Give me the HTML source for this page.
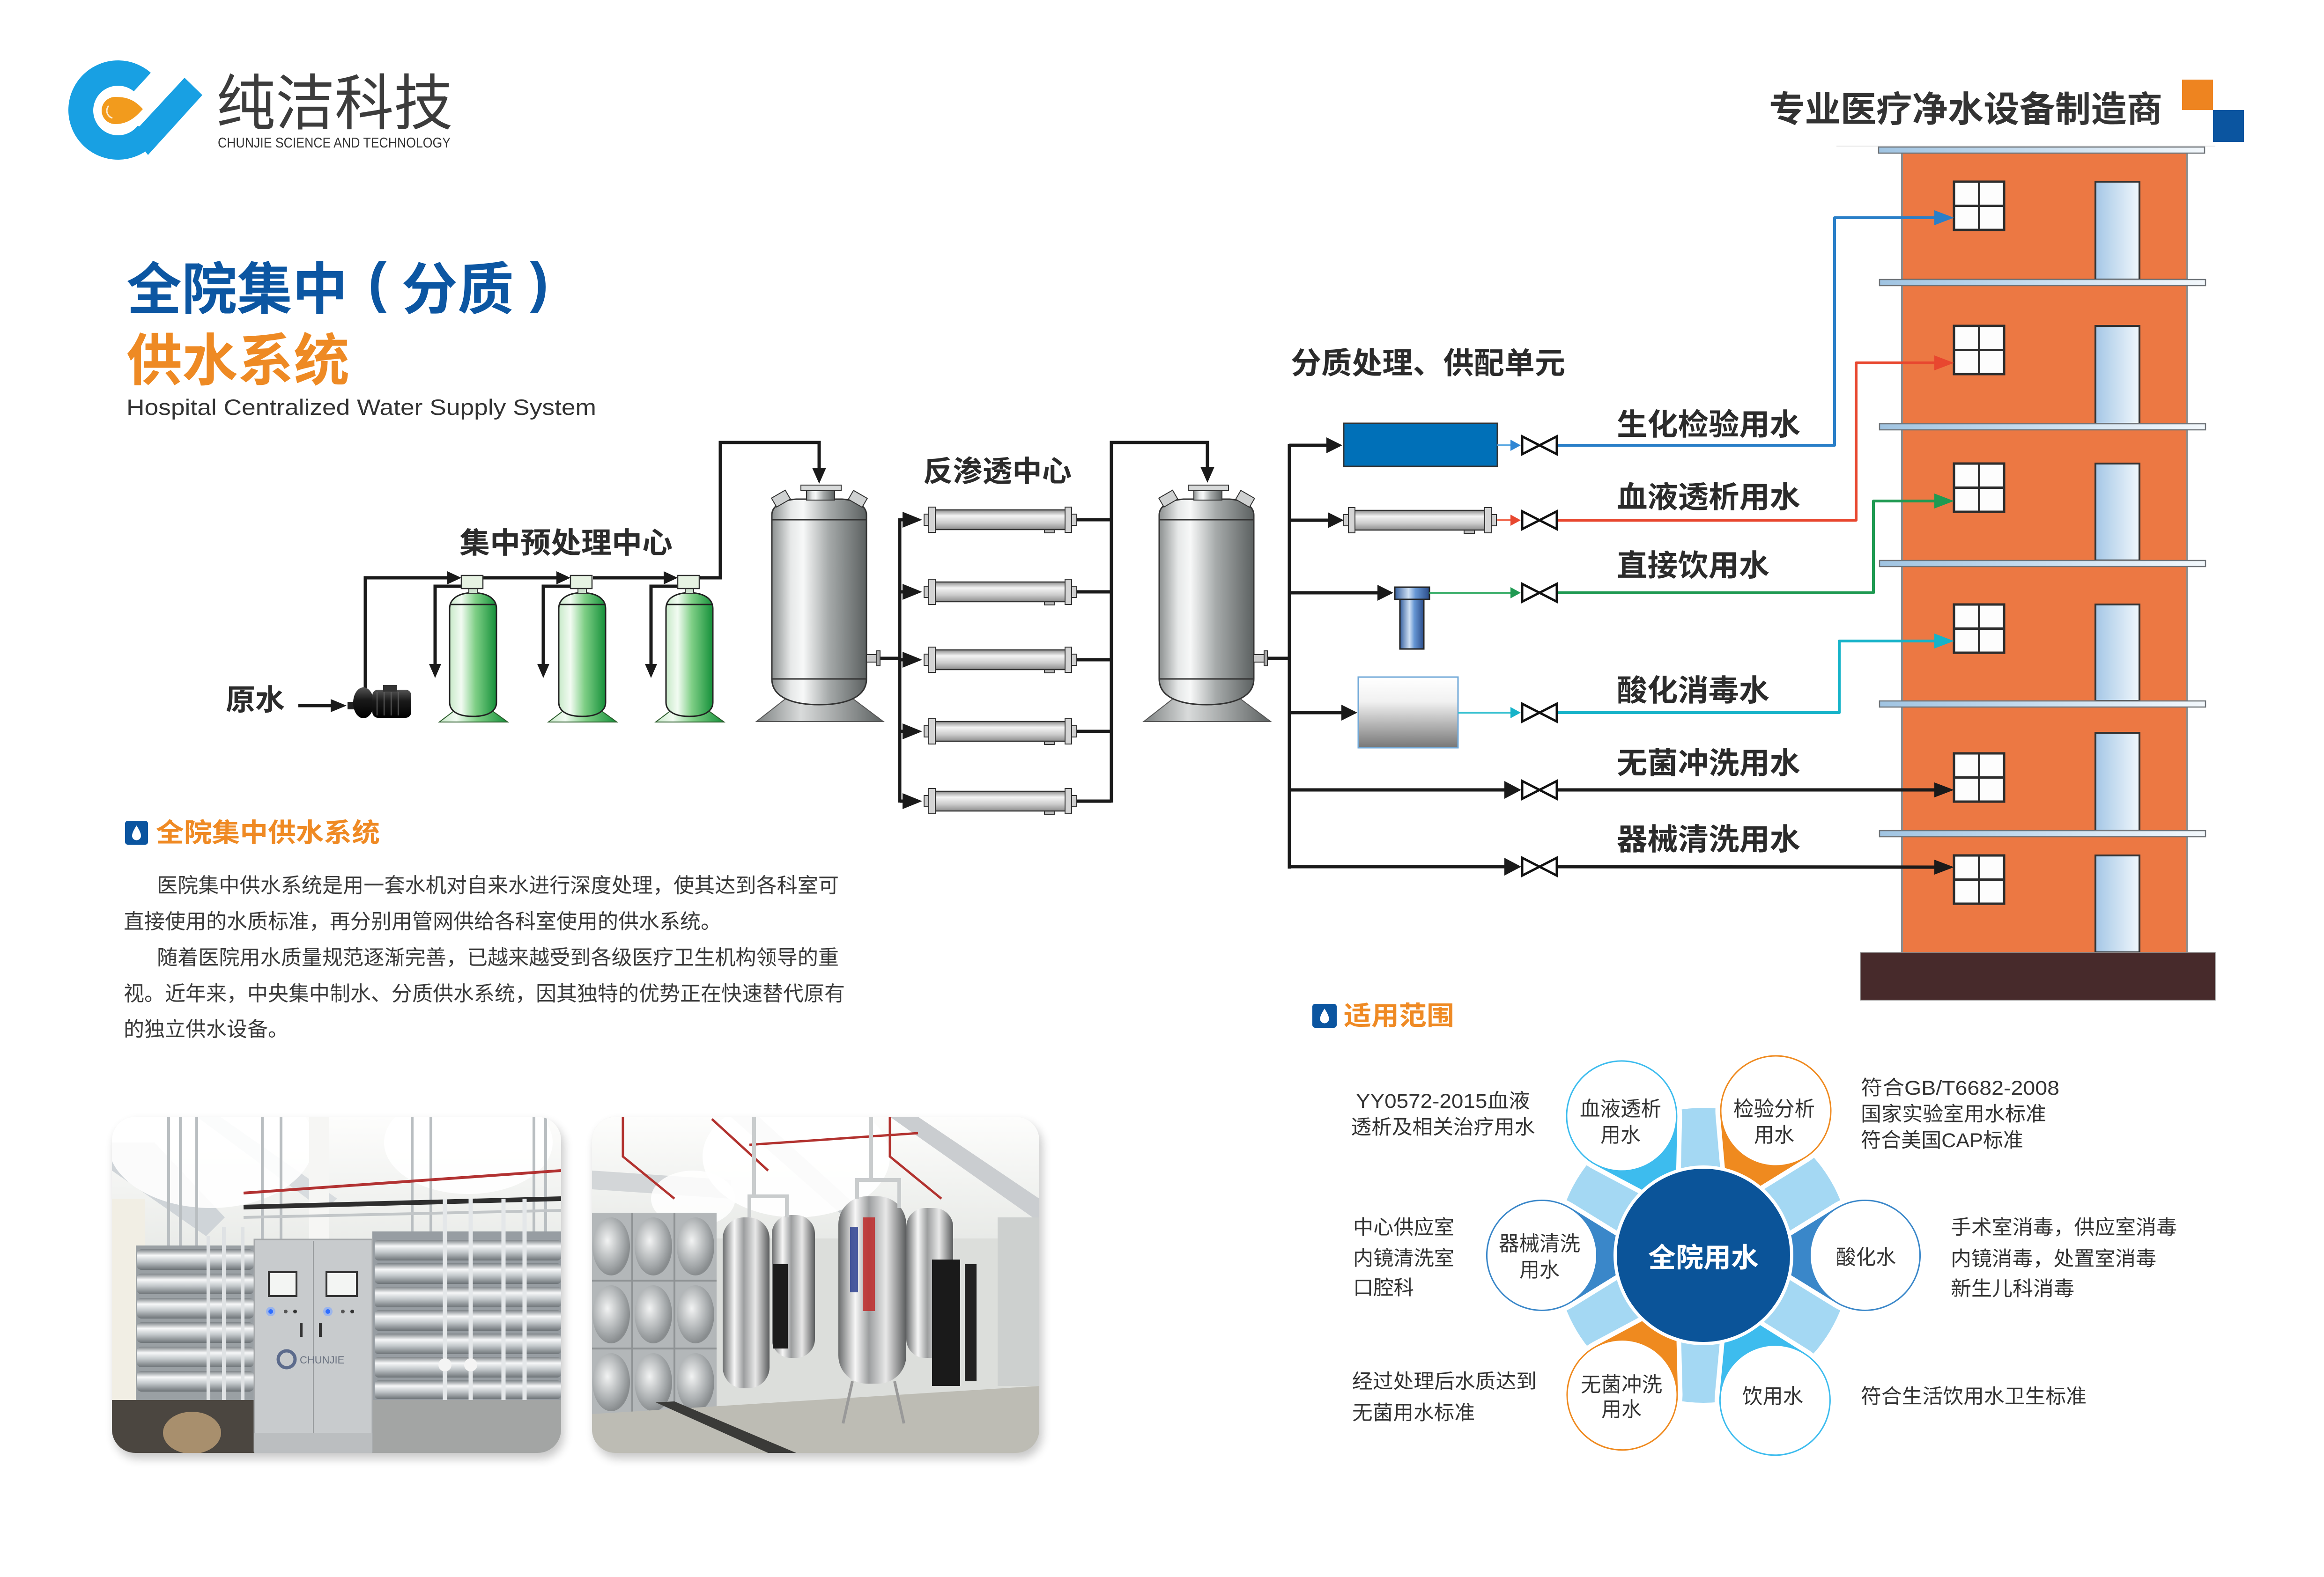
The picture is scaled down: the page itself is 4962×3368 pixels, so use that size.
<!DOCTYPE html>
<html><head><meta charset="utf-8">
<style>
html,body{margin:0;padding:0;background:#fff;}
body{width:4962px;height:3368px;overflow:hidden;}
svg{display:block;}
text{font-family:"Liberation Sans","Noto Sans CJK SC",sans-serif;}
</style></head><body>
<svg xmlns="http://www.w3.org/2000/svg" xmlns:xlink="http://www.w3.org/1999/xlink" width="4962" height="3368" viewBox="0 0 4962 3368">
<defs>
 <linearGradient id="gTank" x1="0" x2="1" y1="0" y2="0">
  <stop offset="0" stop-color="#8c9090"/><stop offset="0.2" stop-color="#e6e8e8"/><stop offset="0.33" stop-color="#f7f8f8"/><stop offset="0.6" stop-color="#a6aaaa"/><stop offset="1" stop-color="#5c6161"/>
 </linearGradient>
 <linearGradient id="gCone" x1="0" x2="1" y1="0" y2="0">
  <stop offset="0" stop-color="#7d8181"/><stop offset="0.35" stop-color="#d9dbdb"/><stop offset="1" stop-color="#5d6262"/>
 </linearGradient>
 <linearGradient id="gGreen" x1="0" x2="1" y1="0" y2="0">
  <stop offset="0" stop-color="#c8eac9"/><stop offset="0.25" stop-color="#f2fbf2"/><stop offset="0.55" stop-color="#7fcf86"/><stop offset="1" stop-color="#15903a"/>
 </linearGradient>
 <linearGradient id="gTube" x1="0" y1="0" x2="0" y2="1">
  <stop offset="0" stop-color="#8c8c8c"/><stop offset="0.3" stop-color="#f4f4f4"/><stop offset="0.65" stop-color="#cdcdcd"/><stop offset="1" stop-color="#8e8e8e"/>
 </linearGradient>
 <linearGradient id="gDoor" x1="0" x2="1" y1="0" y2="0">
  <stop offset="0" stop-color="#a5c7e6"/><stop offset="1" stop-color="#f0f7fc"/>
 </linearGradient>
 <linearGradient id="gSlab" x1="0" x2="1" y1="0" y2="0">
  <stop offset="0" stop-color="#a0c4e2"/><stop offset="1" stop-color="#f3f8fc"/>
 </linearGradient>
 <linearGradient id="gCart" x1="0" x2="1" y1="0" y2="0">
  <stop offset="0" stop-color="#36609f"/><stop offset="0.4" stop-color="#cfe0f4"/><stop offset="0.6" stop-color="#6797d4"/><stop offset="1" stop-color="#2b4d8a"/>
 </linearGradient>
 <linearGradient id="gBox" x1="0" y1="0" x2="0" y2="1">
  <stop offset="0" stop-color="#ffffff"/><stop offset="0.35" stop-color="#f1f1f1"/><stop offset="1" stop-color="#777777"/>
 </linearGradient>
 <linearGradient id="gPump" x1="0" y1="0" x2="0" y2="1">
  <stop offset="0" stop-color="#555"/><stop offset="0.4" stop-color="#1a1a1a"/><stop offset="1" stop-color="#000"/>
 </linearGradient>
 <linearGradient id="gSteel" x1="0" y1="0" x2="0" y2="1">
  <stop offset="0" stop-color="#7d8387"/><stop offset="0.3" stop-color="#f7f8f9"/><stop offset="0.6" stop-color="#c3c8cb"/><stop offset="1" stop-color="#6e7478"/>
 </linearGradient>
 <linearGradient id="gSteelV" x1="0" x2="1" y1="0" y2="0">
  <stop offset="0" stop-color="#6a6c6d"/><stop offset="0.25" stop-color="#f7f7f7"/><stop offset="0.45" stop-color="#9c9e9f"/><stop offset="0.7" stop-color="#e8e8e8"/><stop offset="1" stop-color="#5a5c5d"/>
 </linearGradient>
 <linearGradient id="gCeil" x1="0" y1="0" x2="0" y2="1">
  <stop offset="0" stop-color="#fdfdfc"/><stop offset="1" stop-color="#e8eae7"/>
 </linearGradient>
 <radialGradient id="gDimple" cx="0.4" cy="0.4" r="0.6">
  <stop offset="0" stop-color="#f2f3f3"/><stop offset="0.7" stop-color="#a8acae"/><stop offset="1" stop-color="#888c8e"/>
 </radialGradient>
 <clipPath id="clip1"><rect x="239" y="2385" width="959" height="718" rx="50"/></clipPath>
 <clipPath id="clip2"><rect x="1264" y="2385" width="955" height="718" rx="50"/></clipPath>
 <filter id="blur" x="-10%" y="-10%" width="120%" height="130%"><feGaussianBlur stdDeviation="10"/></filter>

 <g id="tankG">
  <polygon points="1688,1484 1810,1484 1886,1541 1615,1541" fill="url(#gCone)" stroke="#555" stroke-width="2"/>
  <path d="M1648,1450 L1648,1100 C1648,1080 1670,1068 1700,1066 L1798,1066 C1828,1068 1850,1080 1850,1100 L1850,1450 C1850,1492 1800,1505 1749,1505 C1698,1505 1648,1492 1648,1450 Z" fill="url(#gTank)" stroke="#333" stroke-width="3"/>
  <line x1="1648" y1="1110" x2="1850" y2="1110" stroke="#333" stroke-width="3"/>
  <line x1="1648" y1="1450" x2="1850" y2="1450" stroke="#333" stroke-width="3"/>
  <rect x="1722" y="1046" width="60" height="22" fill="url(#gTank)" stroke="#333" stroke-width="2"/>
  <rect x="1710" y="1036" width="86" height="12" fill="#d8dada" stroke="#333" stroke-width="2"/>
  <g transform="rotate(-30 1668 1068)"><rect x="1652" y="1054" width="34" height="22" fill="#cfd1d1" stroke="#333" stroke-width="2"/></g>
  <g transform="rotate(30 1830 1068)"><rect x="1813" y="1054" width="34" height="22" fill="#cfd1d1" stroke="#333" stroke-width="2"/></g>
  <rect x="1850" y="1398" width="22" height="16" fill="#ccc" stroke="#333" stroke-width="2"/>
  <rect x="1872" y="1390" width="7" height="32" fill="#aaa" stroke="#333" stroke-width="2"/>
 </g>
 <g id="tankGr">
  <polygon points="983,1508 1037,1508 1084,1542 938,1542" fill="url(#gGreen)" stroke="#2a5a2a" stroke-width="2"/>
  <path d="M960,1300 C960,1278 980,1266 1010,1266 C1040,1266 1060,1278 1060,1300 L1060,1500 C1060,1520 1040,1530 1010,1530 C980,1530 960,1520 960,1500 Z" fill="url(#gGreen)" stroke="#222" stroke-width="3"/>
  <line x1="961" y1="1291" x2="1059" y2="1291" stroke="#222" stroke-width="3"/>
  <rect x="1001" y="1256" width="18" height="11" fill="#cfe3cf" stroke="#333" stroke-width="2"/>
  <rect x="985" y="1229" width="46" height="28" fill="#e6f2e2" stroke="#333" stroke-width="2.5"/>
 </g>
 <g id="tube">
  <rect x="1973" y="-12" width="11" height="24" fill="#cfcfcf" stroke="#333" stroke-width="2"/>
  <rect x="2230" y="18" width="22" height="10" fill="#bbb" stroke="#333" stroke-width="2"/>
  <rect x="1995" y="-21" width="282" height="42" fill="url(#gTube)" stroke="#333" stroke-width="2.5"/>
  <rect x="1983" y="-27" width="14" height="54" fill="#d5d5d5" stroke="#333" stroke-width="2"/>
  <rect x="2274" y="-27" width="14" height="54" fill="#d5d5d5" stroke="#333" stroke-width="2"/>
  <rect x="2288" y="-12" width="11" height="24" fill="#cfcfcf" stroke="#333" stroke-width="2"/>
 </g>
 <g id="valve">
  <path d="M-37,-19 L-37,19 L0,0 Z M37,-19 L37,19 L0,0 Z" fill="#fff" stroke="#111" stroke-width="5"/>
 </g>
 <g id="win">
  <rect x="4172" y="0" width="107" height="103" fill="#fdfdfd" stroke="#2d2d2d" stroke-width="5"/>
  <line x1="4225.5" y1="0" x2="4225.5" y2="103" stroke="#2d2d2d" stroke-width="5"/>
  <line x1="4172" y1="51.5" x2="4279" y2="51.5" stroke="#2d2d2d" stroke-width="5"/>
 </g>
 <g id="slab">
  <rect x="4013" y="0" width="696" height="13" fill="url(#gSlab)" stroke="#6f7479" stroke-width="2.5"/>
 </g>
</defs>

<!-- ================= LOGO ================= -->
<circle cx="252" cy="235" r="106" fill="#18a0e3"/>
<polygon points="337,139 403,156 299,270 230,256" fill="#fff"/>
<circle cx="252" cy="236" r="53" fill="#fff"/>
<path d="M305,233 C288,214 272,207 246,207 A29,29 0 1 0 246,265 C272,265 288,252 305,233 Z" fill="#f29b1d"/>
<path d="M232,226 A16,16 0 0 0 240,252" fill="none" stroke="#fff" stroke-width="3" opacity="0.8"/>
<polygon points="394,166 432,203 316,331 282,287" fill="#18a0e3"/>
<text x="462" y="266" font-size="130" fill="#3c3c3c" textLength="505" lengthAdjust="spacingAndGlyphs">纯洁科技</text>
<text x="465" y="315" font-size="31" fill="#333" textLength="497" lengthAdjust="spacingAndGlyphs">CHUNJIE SCIENCE AND TECHNOLOGY</text>

<!-- ================= TITLE ================= -->
<g font-size="120" font-weight="700" fill="#0c56a2">
 <text x="270" y="660" textLength="472" lengthAdjust="spacingAndGlyphs">全院集中</text>
 <text x="806" y="644" text-anchor="middle">(</text>
 <text x="857" y="660" textLength="240" lengthAdjust="spacingAndGlyphs">分质</text>
 <text x="1151" y="644" text-anchor="middle">)</text>
</g>
<text x="270" y="812" font-size="120" font-weight="700" fill="#ee8a24" textLength="476" lengthAdjust="spacingAndGlyphs">供水系统</text>
<text x="270" y="886" font-size="47" fill="#333" textLength="1003" lengthAdjust="spacingAndGlyphs">Hospital Centralized Water Supply System</text>

<!-- top right -->
<text x="3777" y="260" font-size="76" font-weight="700" fill="#333" textLength="840" lengthAdjust="spacingAndGlyphs">专业医疗净水设备制造商</text>
<rect x="4659" y="170" width="66" height="65" fill="#ee8420"/>
<rect x="4725" y="235" width="66" height="68" fill="#0b55a0"/>

<!-- ================= BUILDING ================= -->
<line x1="3921" y1="312" x2="4730" y2="312" stroke="#e4e4e4" stroke-width="2"/>
<rect x="4060" y="320" width="611" height="1714" fill="#ec7843"/>
<line x1="4061" y1="320" x2="4061" y2="2034" stroke="#8d8d8d" stroke-width="4"/>
<line x1="4670" y1="320" x2="4670" y2="2034" stroke="#8d8d8d" stroke-width="4"/>
<g>
 <rect x="4474" y="388" width="94" height="209" fill="url(#gDoor)" stroke="#333" stroke-width="4"/>
 <rect x="4474" y="696" width="94" height="209" fill="url(#gDoor)" stroke="#333" stroke-width="4"/>
 <rect x="4474" y="990" width="94" height="207" fill="url(#gDoor)" stroke="#333" stroke-width="4"/>
 <rect x="4474" y="1291" width="94" height="206" fill="url(#gDoor)" stroke="#333" stroke-width="4"/>
 <rect x="4474" y="1565" width="94" height="209" fill="url(#gDoor)" stroke="#333" stroke-width="4"/>
 <rect x="4474" y="1827" width="94" height="207" fill="url(#gDoor)" stroke="#333" stroke-width="4"/>
</g>
<use xlink:href="#win" href="#win" y="388"/>
<use xlink:href="#win" href="#win" y="696"/>
<use xlink:href="#win" href="#win" y="990"/>
<use xlink:href="#win" href="#win" y="1291"/>
<use xlink:href="#win" href="#win" y="1609"/>
<use xlink:href="#win" href="#win" y="1827"/>
<line x1="4060" y1="597" x2="4671" y2="597" stroke="#333" stroke-width="3"/>
<use xlink:href="#slab" href="#slab" y="314" x="-2"/>
<use xlink:href="#slab" href="#slab" y="597"/>
<use xlink:href="#slab" href="#slab" y="905"/>
<use xlink:href="#slab" href="#slab" y="1197"/>
<use xlink:href="#slab" href="#slab" y="1497"/>
<use xlink:href="#slab" href="#slab" y="1774"/>
<rect x="3972" y="2034" width="758" height="102" fill="#472a2b" stroke="#9a9a9a" stroke-width="1.5"/>

<!-- ================= FLOW LEFT ================= -->
<text x="482" y="1516" font-size="62" font-weight="700" fill="#2b2b2b" textLength="126" lengthAdjust="spacingAndGlyphs">原水</text>
<text x="981" y="1181" font-size="62" font-weight="700" fill="#2b2b2b" textLength="455" lengthAdjust="spacingAndGlyphs">集中预处理中心</text>
<text x="1971" y="1028" font-size="62" font-weight="700" fill="#2b2b2b" textLength="317" lengthAdjust="spacingAndGlyphs">反渗透中心</text>
<text x="2756" y="798" font-size="64" font-weight="700" fill="#2b2b2b" textLength="586" lengthAdjust="spacingAndGlyphs">分质处理、供配单元</text>

<g fill="none" stroke="#1a1a1a" stroke-width="7">
 <line x1="637" y1="1507" x2="712" y2="1507"/>
 <polyline points="780,1478 780,1234 960,1234"/>
 <line x1="1031" y1="1234" x2="1195" y2="1234"/>
 <line x1="1266" y1="1234" x2="1424" y2="1234"/>
 <polyline points="1495,1234 1538,1234 1538,945 1749,945 1749,1005"/>
 <polyline points="985,1252 929,1252 929,1425"/>
 <polyline points="1218,1252 1160,1252 1160,1425"/>
 <polyline points="1447,1252 1390,1252 1390,1425"/>
 <line x1="1879" y1="1406" x2="1921" y2="1406"/>
 <line x1="1921" y1="1107" x2="1921" y2="1714"/>
 <line x1="1921" y1="1110" x2="1935" y2="1110"/>
 <line x1="1921" y1="1264" x2="1935" y2="1264"/>
 <line x1="1921" y1="1409" x2="1935" y2="1409"/>
 <line x1="1921" y1="1562" x2="1935" y2="1562"/>
 <line x1="1921" y1="1711" x2="1935" y2="1711"/>
 <line x1="2299" y1="1110" x2="2373" y2="1110"/>
 <line x1="2299" y1="1264" x2="2373" y2="1264"/>
 <line x1="2299" y1="1409" x2="2373" y2="1409"/>
 <line x1="2299" y1="1562" x2="2373" y2="1562"/>
 <line x1="2299" y1="1711" x2="2373" y2="1711"/>
 <polyline points="2373,1714 2373,945 2578,945 2578,1005"/>
 <line x1="2706" y1="1406" x2="2753" y2="1406"/>
 <line x1="2753" y1="948" x2="2753" y2="1855"/>
 <line x1="2753" y1="951" x2="2838" y2="951"/>
 <line x1="2753" y1="1111" x2="2840" y2="1111"/>
 <line x1="2753" y1="1266" x2="2945" y2="1266"/>
 <line x1="2753" y1="1522" x2="2870" y2="1522"/>
 <line x1="2753" y1="1687" x2="3215" y2="1687"/>
 <line x1="2753" y1="1851" x2="3215" y2="1851"/>
 <line x1="3326" y1="1687" x2="4135" y2="1687"/>
 <line x1="3326" y1="1851" x2="4135" y2="1852"/>
</g>
<g fill="#1a1a1a">
 <polygon points="706,1493 740,1507 706,1521"/>
 <polygon points="955,1220 985,1234 955,1248"/>
 <polygon points="1188,1220 1218,1234 1188,1248"/>
 <polygon points="1417,1220 1447,1234 1417,1248"/>
 <polygon points="916,1418 929,1448 942,1418"/>
 <polygon points="1147,1418 1160,1448 1173,1418"/>
 <polygon points="1377,1418 1390,1448 1403,1418"/>
 <polygon points="1734,999 1749,1033 1764,999"/>
 <polygon points="2563,997 2578,1031 2593,997"/>
 <polygon points="1927,1093 1969,1110 1927,1127"/>
 <polygon points="1927,1247 1969,1264 1927,1281"/>
 <polygon points="1927,1392 1969,1409 1927,1426"/>
 <polygon points="1927,1545 1969,1562 1927,1579"/>
 <polygon points="1927,1694 1969,1711 1927,1728"/>
 <polygon points="2832,934 2866,951 2832,968"/>
 <polygon points="2835,1094 2869,1111 2835,1128"/>
 <polygon points="2941,1249 2975,1266 2941,1283"/>
 <polygon points="2864,1505 2898,1522 2864,1539"/>
 <polygon points="3212,1668 3248,1687 3212,1706"/>
 <polygon points="3212,1832 3248,1851 3212,1870"/>
 <polygon points="4130,1671 4172,1687 4130,1703"/>
 <polygon points="4130,1836 4172,1852 4130,1868"/>
</g>

<!-- pump -->
<g>
 <rect x="742" y="1499" width="14" height="16" fill="#222"/>
 <ellipse cx="776" cy="1501" rx="22" ry="33" fill="url(#gPump)"/>
 <rect x="795" y="1473" width="83" height="60" rx="12" fill="url(#gPump)"/>
 <rect x="818" y="1463" width="30" height="14" fill="#333"/>
 <line x1="805" y1="1478" x2="805" y2="1528" stroke="#666" stroke-width="2"/>
 <line x1="820" y1="1478" x2="820" y2="1528" stroke="#666" stroke-width="2"/>
 <line x1="835" y1="1478" x2="835" y2="1528" stroke="#666" stroke-width="2"/>
 <line x1="850" y1="1478" x2="850" y2="1528" stroke="#666" stroke-width="2"/>
</g>
<!-- green tanks -->
<use xlink:href="#tankGr" href="#tankGr"/>
<use xlink:href="#tankGr" href="#tankGr" x="233"/>
<use xlink:href="#tankGr" href="#tankGr" x="462"/>
<!-- gray tanks -->
<use xlink:href="#tankG" href="#tankG"/>
<use xlink:href="#tankG" href="#tankG" x="827"/>
<!-- RO tubes -->
<use xlink:href="#tube" href="#tube" y="1110"/>
<use xlink:href="#tube" href="#tube" y="1264"/>
<use xlink:href="#tube" href="#tube" y="1409"/>
<use xlink:href="#tube" href="#tube" y="1562"/>
<use xlink:href="#tube" href="#tube" y="1711"/>

<!-- ================= BRANCHES ================= -->
<rect x="2869" y="904" width="328" height="92" fill="#0070b8" stroke="#333" stroke-width="3"/>
<use xlink:href="#tube" href="#tube" x="896" y="1111"/>
<rect x="2978" y="1254" width="74" height="26" fill="url(#gCart)" stroke="#222" stroke-width="3"/>
<rect x="2989" y="1280" width="51" height="106" fill="url(#gCart)" stroke="#222" stroke-width="3"/>
<rect x="2900" y="1446" width="213" height="151" fill="url(#gBox)" stroke="#72a9d8" stroke-width="3"/>

<g fill="none" stroke-width="4">
 <line x1="3197" y1="951" x2="3230" y2="951" stroke="#5aa8e2"/>
 <line x1="3197" y1="1111" x2="3230" y2="1111" stroke="#f06a50"/>
 <line x1="3052" y1="1266" x2="3230" y2="1266" stroke="#3aae6a"/>
 <line x1="3113" y1="1522" x2="3230" y2="1522" stroke="#35c0d0"/>
</g>
<polygon points="3225,939 3247,951 3225,963" fill="#2f86d4"/>
<polygon points="3225,1099 3247,1111 3225,1123" fill="#e8472f"/>
<polygon points="3225,1254 3247,1266 3225,1278" fill="#1f9a52"/>
<polygon points="3225,1510 3247,1522 3225,1534" fill="#16b3c9"/>

<g fill="none" stroke-width="6" stroke-linejoin="round">
 <polyline points="3326,951 3917,951 3917,465 4135,465" stroke="#2a7fc8"/>
 <polyline points="3326,1111 3963,1111 3963,775 4135,775" stroke="#e8472f"/>
 <polyline points="3326,1266 4000,1266 4000,1070 4135,1070" stroke="#1f9a52"/>
 <polyline points="3326,1522 3927,1522 3927,1369 4135,1369" stroke="#16b3c9"/>
</g>
<polygon points="4130,449 4172,465 4130,481" fill="#2a7fc8"/>
<polygon points="4130,759 4172,775 4130,791" fill="#e8472f"/>
<polygon points="4130,1054 4172,1070 4130,1086" fill="#1f9a52"/>
<polygon points="4130,1353 4172,1369 4130,1385" fill="#16b3c9"/>

<use xlink:href="#valve" href="#valve" x="3287" y="951"/>
<use xlink:href="#valve" href="#valve" x="3287" y="1111"/>
<use xlink:href="#valve" href="#valve" x="3287" y="1266"/>
<use xlink:href="#valve" href="#valve" x="3287" y="1522"/>
<use xlink:href="#valve" href="#valve" x="3287" y="1687"/>
<use xlink:href="#valve" href="#valve" x="3287" y="1851"/>

<g font-size="64" font-weight="700" fill="#2b2b2b">
 <text x="3452" y="929" textLength="392" lengthAdjust="spacingAndGlyphs">生化检验用水</text>
 <text x="3452" y="1084" textLength="392" lengthAdjust="spacingAndGlyphs">血液透析用水</text>
 <text x="3452" y="1230" textLength="326" lengthAdjust="spacingAndGlyphs">直接饮用水</text>
 <text x="3452" y="1497" textLength="326" lengthAdjust="spacingAndGlyphs">酸化消毒水</text>
 <text x="3452" y="1652" textLength="392" lengthAdjust="spacingAndGlyphs">无菌冲洗用水</text>
 <text x="3452" y="1815" textLength="392" lengthAdjust="spacingAndGlyphs">器械清洗用水</text>
</g>

<!-- ================= SECTION 1 TEXT ================= -->
<rect x="267" y="1753" width="49" height="51" rx="6" fill="#0b55a0"/>
<path d="M291.5,1763 C286,1772 282,1779 282,1785 A9.5,9.5 0 0 0 301,1785 C301,1779 297,1772 291.5,1763 Z" fill="#fff"/>
<text x="333" y="1798" font-size="56" font-weight="700" fill="#ef8a24" textLength="478" lengthAdjust="spacingAndGlyphs">全院集中供水系统</text>
<g font-size="44" fill="#3a3a3a">
 <text x="335" y="1906" textLength="1456" lengthAdjust="spacingAndGlyphs">医院集中供水系统是用一套水机对自来水进行深度处理，使其达到各科室可</text>
 <text x="264" y="1983" textLength="1276" lengthAdjust="spacingAndGlyphs">直接使用的水质标准，再分别用管网供给各科室使用的供水系统。</text>
 <text x="335" y="2060" textLength="1456" lengthAdjust="spacingAndGlyphs">随着医院用水质量规范逐渐完善，已越来越受到各级医疗卫生机构领导的重</text>
 <text x="264" y="2137" textLength="1540" lengthAdjust="spacingAndGlyphs">视。近年来，中央集中制水、分质供水系统，因其独特的优势正在快速替代原有</text>
 <text x="264" y="2213" textLength="352" lengthAdjust="spacingAndGlyphs">的独立供水设备。</text>
</g>

<!-- ================= PHOTOS ================= -->
<rect x="245" y="2397" width="959" height="718" rx="50" fill="#000" opacity="0.22" filter="url(#blur)"/>
<rect x="1270" y="2397" width="955" height="718" rx="50" fill="#000" opacity="0.22" filter="url(#blur)"/>
<g clip-path="url(#clip1)">
 <rect x="239" y="2385" width="959" height="718" fill="#e6e8e5"/>
 <rect x="239" y="2385" width="959" height="300" fill="url(#gCeil)"/>
 <rect x="239" y="2560" width="70" height="430" fill="#f1eee4"/>
 <polygon points="239,2440 330,2440 480,2600 440,2640 239,2500" fill="#cfd4d8"/>
 <polygon points="420,2385 470,2385 720,2560 690,2585" fill="#d8dcdf"/>
 <ellipse cx="450" cy="2440" rx="220" ry="140" fill="#fff" opacity="0.9"/>
 <ellipse cx="1000" cy="2440" rx="180" ry="110" fill="#fff" opacity="0.9"/>
 <rect x="660" y="2385" width="42" height="270" fill="#f6f6f4"/>
 <g stroke="#b9bec1" stroke-width="6">
  <line x1="360" y1="2385" x2="360" y2="2700"/><line x1="385" y1="2385" x2="385" y2="2700"/>
  <line x1="420" y1="2385" x2="420" y2="2700"/><line x1="560" y1="2385" x2="560" y2="2650"/>
  <line x1="600" y1="2385" x2="600" y2="2650"/><line x1="880" y1="2385" x2="880" y2="2650"/>
  <line x1="920" y1="2385" x2="920" y2="2650"/><line x1="1140" y1="2385" x2="1140" y2="2650"/>
  <line x1="1165" y1="2385" x2="1165" y2="2650"/>
 </g>
 <line x1="520" y1="2548" x2="1198" y2="2500" stroke="#b23232" stroke-width="6"/>
 <line x1="520" y1="2578" x2="1198" y2="2560" stroke="#2e2e2e" stroke-width="10"/>
 <line x1="520" y1="2600" x2="1198" y2="2585" stroke="#c2c6c8" stroke-width="6"/>
 <rect x="290" y="2660" width="255" height="330" fill="#9aa0a4"/>
 <g fill="url(#gSteel)">
  <rect x="292" y="2668" width="250" height="44" rx="10"/><rect x="292" y="2720" width="250" height="44" rx="10"/>
  <rect x="292" y="2772" width="250" height="44" rx="10"/><rect x="292" y="2824" width="250" height="44" rx="10"/>
  <rect x="292" y="2876" width="250" height="44" rx="10"/><rect x="292" y="2928" width="250" height="44" rx="10"/>
 </g>
 <g stroke="#dfe2e4" stroke-width="8"><line x1="445" y1="2640" x2="445" y2="2990"/><line x1="478" y1="2620" x2="478" y2="2990"/><line x1="518" y1="2620" x2="518" y2="2990"/></g>
 <rect x="795" y="2630" width="403" height="360" fill="#979da2"/>
 <g fill="url(#gSteel)">
  <rect x="800" y="2648" width="398" height="44" rx="8"/><rect x="800" y="2698" width="398" height="44" rx="8"/>
  <rect x="800" y="2748" width="398" height="44" rx="8"/><rect x="800" y="2798" width="398" height="44" rx="8"/>
  <rect x="800" y="2848" width="398" height="44" rx="8"/><rect x="800" y="2898" width="398" height="44" rx="8"/>
  <rect x="800" y="2948" width="398" height="40" rx="8"/>
 </g>
 <g stroke="#e4e7e9" stroke-width="9"><line x1="950" y1="2560" x2="950" y2="2990"/><line x1="1005" y1="2560" x2="1005" y2="2990"/><line x1="1075" y1="2560" x2="1075" y2="2990"/><line x1="1120" y1="2560" x2="1120" y2="2990"/></g>
 <circle cx="950" cy="2915" r="14" fill="#f4f4f4"/><circle cx="1005" cy="2915" r="14" fill="#f4f4f4"/>
 <rect x="239" y="2990" width="304" height="113" fill="#4b4640"/>
 <ellipse cx="410" cy="3060" rx="62" ry="45" fill="#a88f6d"/>
 <rect x="795" y="2990" width="403" height="113" fill="#a3a5a4"/>
 <rect x="543" y="2647" width="252" height="452" fill="#c8cbcd" stroke="#a6a9ab" stroke-width="3"/>
 <line x1="669" y1="2650" x2="669" y2="3060" stroke="#9a9d9f" stroke-width="2"/>
 <rect x="543" y="3060" width="252" height="43" fill="#bbbec0"/>
 <rect x="574" y="2717" width="59" height="51" fill="#f3f5f3" stroke="#333" stroke-width="4"/>
 <rect x="697" y="2717" width="65" height="51" fill="#f3f5f3" stroke="#333" stroke-width="4"/>
 <circle cx="578" cy="2801" r="10" fill="#7fa6ff" opacity="0.6"/><circle cx="578" cy="2801" r="5" fill="#2d6dff"/>
 <circle cx="700" cy="2801" r="10" fill="#7fa6ff" opacity="0.6"/><circle cx="700" cy="2801" r="5" fill="#2d6dff"/>
 <circle cx="610" cy="2801" r="4" fill="#555"/><circle cx="630" cy="2801" r="4" fill="#333"/>
 <circle cx="732" cy="2801" r="4" fill="#555"/><circle cx="752" cy="2801" r="4" fill="#333"/>
 <rect x="640" y="2825" width="6" height="30" fill="#333"/><rect x="681" y="2825" width="6" height="30" fill="#333"/>
 <circle cx="612" cy="2903" r="18" fill="none" stroke="#5c6b8c" stroke-width="7"/>
 <text x="640" y="2912" font-size="22" fill="#6a7280">CHUNJIE</text>
</g>
<g clip-path="url(#clip2)">
 <rect x="1264" y="2385" width="955" height="718" fill="#dcdedb"/>
 <rect x="1264" y="2385" width="955" height="260" fill="url(#gCeil)"/>
 <polygon points="1560,2385 1620,2385 1900,2640 1860,2650" fill="#c8ccce"/>
 <polygon points="1900,2385 1960,2385 2219,2560 2219,2610" fill="#cacdd0"/>
 <polygon points="1264,2500 1264,2540 1560,2560 1560,2520" fill="#d3d6d8"/>
 <ellipse cx="1700" cy="2470" rx="200" ry="130" fill="#fff" opacity="0.92"/>
 <ellipse cx="1480" cy="2560" rx="90" ry="60" fill="#fff" opacity="0.85"/>
 <g fill="none" stroke="#b2322f" stroke-width="5">
  <polyline points="1330,2385 1330,2470 1440,2560"/>
  <polyline points="1520,2390 1640,2500"/>
  <polyline points="1600,2445 1960,2420"/>
  <polyline points="1900,2385 1900,2470 2010,2560"/>
 </g>
 <rect x="1264" y="2590" width="266" height="430" fill="#b3b7b9"/>
 <g fill="url(#gDimple)">
  <ellipse cx="1305" cy="2662" rx="40" ry="62"/><ellipse cx="1395" cy="2662" rx="40" ry="62"/><ellipse cx="1485" cy="2662" rx="40" ry="62"/>
  <ellipse cx="1305" cy="2807" rx="40" ry="62"/><ellipse cx="1395" cy="2807" rx="40" ry="62"/><ellipse cx="1485" cy="2807" rx="40" ry="62"/>
  <ellipse cx="1305" cy="2952" rx="40" ry="62"/><ellipse cx="1395" cy="2952" rx="40" ry="62"/><ellipse cx="1485" cy="2952" rx="40" ry="62"/>
 </g>
 <g stroke="#8e9294" stroke-width="4"><line x1="1350" y1="2590" x2="1350" y2="3020"/><line x1="1440" y1="2590" x2="1440" y2="3020"/><line x1="1264" y1="2735" x2="1530" y2="2735"/><line x1="1264" y1="2880" x2="1530" y2="2880"/></g>
 <rect x="2130" y="2600" width="89" height="360" fill="#cdd0cf"/>
 <rect x="1648" y="2595" width="92" height="305" rx="40" fill="url(#gSteelV)"/>
 <rect x="1935" y="2580" width="100" height="320" rx="40" fill="url(#gSteelV)"/>
 <rect x="1650" y="2700" width="32" height="180" fill="#1c1c1c"/>
 <rect x="1990" y="2690" width="60" height="270" fill="#1a1a1a"/>
 <rect x="2060" y="2700" width="25" height="250" fill="#222"/>
 <rect x="1543" y="2600" width="100" height="365" rx="45" fill="url(#gSteelV)"/>
 <rect x="1790" y="2555" width="145" height="400" rx="60" fill="url(#gSteelV)"/>
 <rect x="1842" y="2600" width="26" height="200" fill="#c02a2a" opacity="0.85"/>
 <rect x="1815" y="2620" width="17" height="140" fill="#2b3f8f" opacity="0.85"/>
 <g fill="none" stroke="#c9cccd" stroke-width="8">
  <polyline points="1600,2600 1600,2555 1680,2555 1680,2600"/>
  <polyline points="1830,2560 1830,2520 1920,2520 1920,2580"/>
  <line x1="1610" y1="2385" x2="1610" y2="2555"/><line x1="1860" y1="2385" x2="1860" y2="2520"/>
 </g>
 <polygon points="1264,3020 2219,2960 2219,3103 1264,3103" fill="#bdbcb4"/>
 <polygon points="1400,2995 1440,2993 1700,3103 1640,3103" fill="#3a3a38"/>
 <line x1="1820" y1="2950" x2="1800" y2="3040" stroke="#999" stroke-width="6"/>
 <line x1="1910" y1="2950" x2="1930" y2="3040" stroke="#999" stroke-width="6"/>
</g>

<!-- ================= SCOPE DIAGRAM ================= -->
<rect x="2802" y="2144" width="52" height="51" rx="6" fill="#0b55a0"/>
<path d="M2828,2154 C2822.5,2163 2818.5,2170 2818.5,2176 A9.5,9.5 0 0 0 2837.5,2176 C2837.5,2170 2833.5,2163 2828,2154 Z" fill="#fff"/>
<text x="2869" y="2189" font-size="56" font-weight="700" fill="#ef8a24" textLength="236" lengthAdjust="spacingAndGlyphs">适用范围</text>

<circle cx="3637" cy="2681" r="315" fill="#a4d8f3"/>
<g transform="translate(3637,2681) rotate(-120.4)">
 <path d="M150,25.4 L279.9,105.5 A124,124 0 1 0 279.9,-105.5 L150,-25.4 Z" fill="#3dbcee" stroke="#fff" stroke-width="10" stroke-linejoin="round"/>
 <circle cx="345" cy="0" r="116" fill="#fff"/>
</g>
<g transform="translate(3637,2681) rotate(-63.4)">
 <path d="M150,25.4 L279.9,105.5 A124,124 0 1 0 279.9,-105.5 L150,-25.4 Z" fill="#ef8a1f" stroke="#fff" stroke-width="10" stroke-linejoin="round"/>
 <circle cx="345" cy="0" r="116" fill="#fff"/>
</g>
<g transform="translate(3637,2681) rotate(0)">
 <path d="M150,25.4 L279.9,105.5 A124,124 0 1 0 279.9,-105.5 L150,-25.4 Z" fill="#3a87c9" stroke="#fff" stroke-width="10" stroke-linejoin="round"/>
 <circle cx="345" cy="0" r="116" fill="#fff"/>
</g>
<g transform="translate(3637,2681) rotate(63.7)">
 <path d="M150,25.4 L279.9,105.5 A124,124 0 1 0 279.9,-105.5 L150,-25.4 Z" fill="#3dbcee" stroke="#fff" stroke-width="10" stroke-linejoin="round"/>
 <circle cx="345" cy="0" r="116" fill="#fff"/>
</g>
<g transform="translate(3637,2681) rotate(120.2)">
 <path d="M150,25.4 L279.9,105.5 A124,124 0 1 0 279.9,-105.5 L150,-25.4 Z" fill="#ef8a1f" stroke="#fff" stroke-width="10" stroke-linejoin="round"/>
 <circle cx="345" cy="0" r="116" fill="#fff"/>
</g>
<g transform="translate(3637,2681) rotate(180)">
 <path d="M150,25.4 L279.9,105.5 A124,124 0 1 0 279.9,-105.5 L150,-25.4 Z" fill="#3a87c9" stroke="#fff" stroke-width="10" stroke-linejoin="round"/>
 <circle cx="345" cy="0" r="116" fill="#fff"/>
</g>
<circle cx="3637" cy="2681" r="192" fill="#fff"/>
<circle cx="3637" cy="2681" r="185" fill="#0b5499"/>
<text x="3637" y="2706" font-size="58" font-weight="700" fill="#fff" text-anchor="middle" textLength="236" lengthAdjust="spacingAndGlyphs">全院用水</text>

<g font-size="44" fill="#333" text-anchor="middle">
 <text x="3460" y="2383" textLength="174" lengthAdjust="spacingAndGlyphs">血液透析</text>
 <text x="3460" y="2439" textLength="86" lengthAdjust="spacingAndGlyphs">用水</text>
 <text x="3788" y="2383" textLength="174" lengthAdjust="spacingAndGlyphs">检验分析</text>
 <text x="3788" y="2439" textLength="86" lengthAdjust="spacingAndGlyphs">用水</text>
 <text x="3287" y="2671" textLength="174" lengthAdjust="spacingAndGlyphs">器械清洗</text>
 <text x="3287" y="2727" textLength="86" lengthAdjust="spacingAndGlyphs">用水</text>
 <text x="3984" y="2700" textLength="128" lengthAdjust="spacingAndGlyphs">酸化水</text>
 <text x="3462" y="2972" textLength="174" lengthAdjust="spacingAndGlyphs">无菌冲洗</text>
 <text x="3462" y="3025" textLength="86" lengthAdjust="spacingAndGlyphs">用水</text>
 <text x="3785" y="2997" textLength="130" lengthAdjust="spacingAndGlyphs">饮用水</text>
</g>

<g font-size="43" fill="#333">
 <text x="3081" y="2366" text-anchor="middle" textLength="372" lengthAdjust="spacingAndGlyphs">YY0572-2015血液</text>
 <text x="3081" y="2422" text-anchor="middle" textLength="393" lengthAdjust="spacingAndGlyphs">透析及相关治疗用水</text>
 <text x="2889" y="2636" textLength="216" lengthAdjust="spacingAndGlyphs">中心供应室</text>
 <text x="2889" y="2702" textLength="216" lengthAdjust="spacingAndGlyphs">内镜清洗室</text>
 <text x="2889" y="2765" textLength="130" lengthAdjust="spacingAndGlyphs">口腔科</text>
 <text x="2887" y="2965" textLength="394" lengthAdjust="spacingAndGlyphs">经过处理后水质达到</text>
 <text x="2887" y="3032" textLength="262" lengthAdjust="spacingAndGlyphs">无菌用水标准</text>
 <text x="3973" y="2338" textLength="424" lengthAdjust="spacingAndGlyphs">符合GB/T6682-2008</text>
 <text x="3973" y="2394" textLength="396" lengthAdjust="spacingAndGlyphs">国家实验室用水标准</text>
 <text x="3973" y="2450" textLength="347" lengthAdjust="spacingAndGlyphs">符合美国CAP标准</text>
 <text x="4165" y="2636" textLength="483" lengthAdjust="spacingAndGlyphs">手术室消毒，供应室消毒</text>
 <text x="4165" y="2703" textLength="439" lengthAdjust="spacingAndGlyphs">内镜消毒，处置室消毒</text>
 <text x="4165" y="2767" textLength="264" lengthAdjust="spacingAndGlyphs">新生儿科消毒</text>
 <text x="3973" y="2997" textLength="482" lengthAdjust="spacingAndGlyphs">符合生活饮用水卫生标准</text>
</g>
</svg>
</body></html>
